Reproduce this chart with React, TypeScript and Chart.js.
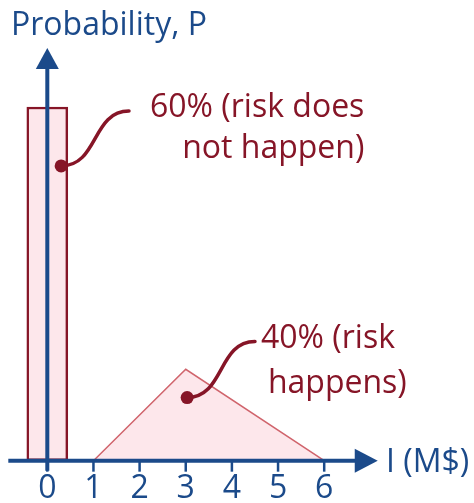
import React, { useEffect, useRef } from "react";
import { Chart, registerables } from "chart.js";

Chart.register(...registerables);

// ---- data ----
const xTickLabels = ["0", "1", "2", "3", "4", "5", "6"];
const xTickValues = [0, 1, 2, 3, 4, 5, 6];
const barX = [0];
const barP = [0.6];
const triX = [1, 3, 6];
const triP = [0, 0.155, 0];
const yTitle = "Probability, P";
const xTitle = "I (M$)";
const note1Lines = ["60% (risk does", "not happen)"];
const note2Lines = ["40% (risk", "happens)"];

const BLUE = "#1b4a8a";
const DARK_RED = "#861527";
const PINK = "#fde7eb";
const TRI_LINE = "#d0646c";
const FONT = "'Open Sans', sans-serif";
const FS = 32;

const W = 474;
const H = 503;

// layout (in data units of the scales)
const X_MIN = -1.025;
const X_MAX = 9.246;
const Y_MIN = -0.0718;
const Y_MAX = 0.7815;

const notes = [
  {
    lines: note1Lines,
    dot: { x: 0.3, y: 0.5 },
    end: { x: 1.77, y: 0.593 },
    textX: 6.87,
    align: "right" as CanvasTextAlign,
    baselines: [0.583, 0.513],
  },
  {
    lines: note2Lines,
    dot: { x: 3.03, y: 0.107 },
    end: { x: 4.5, y: 0.202 },
    textX: 4.63,
    align: "left" as CanvasTextAlign,
    baselines: [0.191, 0.115],
    offsets: [0, 0.15],
  },
];

const axesPlugin = {
  id: "customAxes",
  afterDatasetsDraw(chart: any) {
    const ctx: CanvasRenderingContext2D = chart.ctx;
    const xs = chart.scales.x;
    const ys = chart.scales.y;
    const px = (v: number) => xs.getPixelForValue(v);
    const py = (v: number) => ys.getPixelForValue(v);
    const y0 = py(0);
    const x0 = px(0);
    ctx.save();
    ctx.strokeStyle = BLUE;
    ctx.fillStyle = BLUE;
    ctx.lineCap = "butt";

    // x axis
    const xStart = px(-0.845);
    const xTip = px(7.16);
    const headLen = 23;
    ctx.lineWidth = 4;
    ctx.beginPath();
    ctx.moveTo(xStart, y0);
    ctx.lineTo(xTip - headLen + 2, y0);
    ctx.stroke();
    ctx.beginPath();
    ctx.moveTo(xTip, y0);
    ctx.lineTo(xTip - headLen, y0 - 12);
    ctx.lineTo(xTip - headLen, y0 + 12);
    ctx.closePath();
    ctx.fill();

    // ticks
    ctx.lineWidth = 2.5;
    xTickValues.forEach((v) => {
      ctx.beginPath();
      ctx.moveTo(px(v), y0);
      ctx.lineTo(px(v), y0 + 11);
      ctx.stroke();
    });
    ctx.font = `${FS}px ${FONT}`;
    ctx.textAlign = "center";
    ctx.textBaseline = "alphabetic";
    xTickValues.forEach((v, i) => {
      ctx.fillText(xTickLabels[i], px(v), y0 + 37);
    });

    // y axis
    const yTip = py(0.7);
    ctx.lineWidth = 4;
    ctx.beginPath();
    ctx.moveTo(x0, y0 + 10);
    ctx.lineTo(x0, yTip + 18);
    ctx.stroke();
    ctx.beginPath();
    ctx.moveTo(x0, yTip);
    ctx.lineTo(x0 - 11.5, yTip + 21);
    ctx.lineTo(x0 + 11.5, yTip + 21);
    ctx.closePath();
    ctx.fill();

    // titles
    ctx.textAlign = "left";
    ctx.fillText(yTitle, 11, 35);
    ctx.fillText(xTitle, 386, y0 + 11);

    // annotations
    ctx.strokeStyle = DARK_RED;
    ctx.fillStyle = DARK_RED;
    notes.forEach((n) => {
      const dx = px(n.dot.x);
      const dy = py(n.dot.y);
      const ex = px(n.end.x);
      const ey = py(n.end.y);
      const k = (ex - dx) * 0.55;
      ctx.lineWidth = 3.5;
      ctx.lineCap = "round";
      ctx.beginPath();
      ctx.moveTo(dx, dy);
      ctx.bezierCurveTo(dx + k, dy, ex - k, ey, ex, ey);
      ctx.stroke();
      ctx.beginPath();
      ctx.arc(dx, dy, 6.5, 0, Math.PI * 2);
      ctx.fill();
      ctx.textAlign = n.align;
      n.lines.forEach((t, i) => {
        const off = n.offsets ? n.offsets[i] : 0;
        ctx.fillText(t, px(n.textX + off), py(n.baselines[i]));
      });
    });
    ctx.restore();
  },
};

export default function App() {
  const ref = useRef<HTMLCanvasElement>(null);
  useEffect(() => {
    if (!ref.current) return;
    const chart = new Chart(ref.current, {
      type: "bar",
      data: {
        datasets: [
          {
            type: "line",
            data: triX.map((x, i) => ({ x, y: triP[i] })),
            borderColor: TRI_LINE,
            backgroundColor: PINK,
            borderWidth: 1.5,
            pointRadius: 0,
            fill: "origin",
            tension: 0,
            order: 2,
          } as any,
          {
            type: "bar",
            data: barX.map((x, i) => ({ x, y: barP[i] })),
            backgroundColor: PINK,
            borderColor: DARK_RED,
            borderWidth: 2.5,
            borderSkipped: false,
            barThickness: 41,
            grouped: false,
            order: 1,
          } as any,
        ],
      },
      options: {
        animation: false,
        responsive: false,
        layout: { padding: 0 },
        plugins: { legend: { display: false }, tooltip: { enabled: false }, title: { display: false } },
        scales: {
          x: { type: "linear", min: X_MIN, max: X_MAX, display: false, offset: false },
          y: { type: "linear", min: Y_MIN, max: Y_MAX, display: false },
        },
      },
      plugins: [axesPlugin],
    });
    return () => chart.destroy();
  }, []);
  return (
    <div style={{ position: "absolute", left: 0, top: 0, width: W, height: H, background: "#fff" }}>
      <canvas ref={ref} width={W} height={H} />
    </div>
  );
}
